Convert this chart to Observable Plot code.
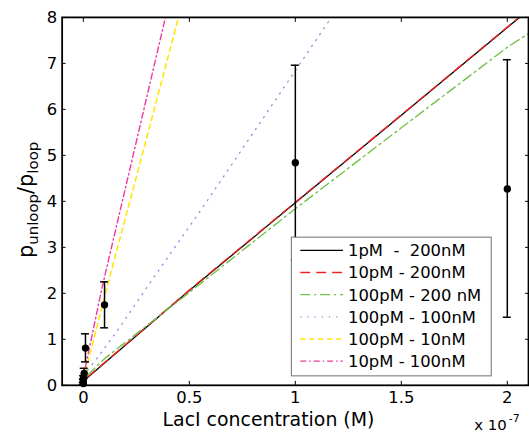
<!DOCTYPE html>
<html><head><meta charset="utf-8">
<script src="https://cdn.jsdelivr.net/npm/d3@7"></script>
<script src="https://cdn.jsdelivr.net/npm/@observablehq/plot@0.6"></script>
<style>
body{margin:0;overflow:hidden;background:#fff}
svg{font-family:"DejaVu Sans",sans-serif}
</style>
</head><body><div id="chart"></div>
<script>
// LacI concentration in units of 1e-7 M (as on the axis, "x 10^-7")
const xTicks = [0, 0.5, 1, 1.5, 2];
const yTicks = [0, 1, 2, 3, 4, 5, 6, 7, 8];

// measured points with error bars
const ptConc = [0.00001, 0.0001, 0.001, 0.004, 0.01, 0.1, 1, 2];
const ptMean = [0.04, 0.1, 0.17, 0.26, 0.81, 1.75, 4.84, 4.27];
const ptLow  = [0.02, 0.07, 0.13, 0.15, 0.51, 1.25, 2.72, 1.48];
const ptHigh = [0.06, 0.13, 0.21, 0.37, 1.12, 2.25, 6.96, 7.08];

// model curves
const seriesNames = ["1pM  -  200nM", "10pM - 200nM", "100pM - 200 nM", "100pM - 100nM", "100pM - 10nM", "10pM - 100nM"];
const s1x = [0.02, 0.5, 1, 1.5, 2, 2.1];
const s1y = [0.17, 2.06, 3.97, 5.87, 7.78, 8.16];
const s2x = [0.02, 0.5, 1, 1.5, 2, 2.1];
const s2y = [0.18, 2.07, 3.98, 5.88, 7.79, 8.17];
const s3x = [0.02, 0.1, 0.5, 1, 1.5, 2, 2.1];
const s3y = [0.22, 0.58, 2.02, 3.84, 5.6, 7.35, 7.65];
const s4x = [0.02, 0.07, 0.17, 0.31, 0.55, 1.17, 1.25];
const s4y = [0.33, 0.62, 1.25, 2.2, 3.78, 8.0, 8.55];
const s5x = [0.01, 0.11, 0.3, 0.46];
const s5y = [0.3, 2.1, 5.4, 8.2];
const s6x = [0.01, 0.087, 0.25, 0.40];
const s6y = [0.4, 2.1, 5.3, 8.25];

const seriesX = [s1x, s2x, s3x, s4x, s5x, s6x];
const seriesY = [s1y, s2y, s3y, s4y, s5y, s6y];
const styles = [
  {stroke: "#000000", dash: null, w: 1.3},
  {stroke: "#ee2222", dash: "10,6", w: 1.4},
  {stroke: "#72c24a", dash: "10,4,2,4", w: 1.4},
  {stroke: "#8c90e0", dash: "1.2,6", w: 1.3},
  {stroke: "#ffe600", dash: "5,4", w: 1.5},
  {stroke: "#f2389a", dash: "6,3,1.5,3", w: 1.4}
];

const points = ptConc.map((c, i) => ({x: c, y: ptMean[i], lo: ptLow[i], hi: ptHigh[i]}));
const lineMarks = seriesX.map((xs, k) =>
  Plot.line(xs.map((x, i) => ({x, y: seriesY[k][i]})), {
    x: "x", y: "y", stroke: styles[k].stroke, strokeWidth: styles[k].w,
    strokeDasharray: styles[k].dash, clip: true
  })
);

const FS = 16.5;
const plot = Plot.plot({
  width: 532, height: 435,
  marginLeft: 62, marginRight: 1, marginTop: 17, marginBottom: 48,
  style: {fontFamily: "DejaVu Sans", fontSize: FS + "px", color: "black", background: "white"},
  x: {domain: [-0.1, 2.1]},
  y: {domain: [0, 8]},
  marks: [
    ...lineMarks,
    Plot.ruleX(points, {x: "x", y1: "lo", y2: "hi", stroke: "black", strokeWidth: 1.5}),
    Plot.ruleY(points, {y: "hi", x1: "x", x2: "x", insetLeft: -4, insetRight: -4, stroke: "black", strokeWidth: 1.5}),
    Plot.ruleY(points, {y: "lo", x1: "x", x2: "x", insetLeft: -4, insetRight: -4, stroke: "black", strokeWidth: 1.5}),
    Plot.dot(points, {x: "x", y: "y", r: 3.7, fill: "black"}),
    Plot.axisX(xTicks, {anchor: "bottom", tickSize: -4, tickPadding: 10, label: null, tickFormat: d => String(d), fontSize: FS}),
    Plot.axisX(xTicks, {anchor: "top", tickSize: -4, fill: "none", label: null}),
    Plot.axisY(yTicks, {anchor: "left", tickSize: -4, tickPadding: 9, label: null, fontSize: FS}),
    Plot.axisY(yTicks, {anchor: "right", tickSize: -4, fill: "none", label: null}),
    Plot.frame({stroke: "black", strokeWidth: 1.8})
  ]
});
document.getElementById("chart").appendChild(plot);

const svg = d3.select(plot);
// y label
const yl = svg.append("text")
  .attr("transform", "translate(33,201) rotate(-90)")
  .attr("text-anchor", "middle").attr("font-size", 21).attr("fill", "black");
yl.append("tspan").text("p");
yl.append("tspan").attr("font-size", 15).attr("dy", 5).text("unloop");
yl.append("tspan").attr("dy", -5).text("/p");
yl.append("tspan").attr("font-size", 15).attr("dy", 5).text("loop");

// x label
svg.append("text").attr("x", 270).attr("y", 428).attr("text-anchor", "middle")
  .attr("font-size", 19).attr("fill", "black").text("LacI concentration (M)");

// multiplier
const mul = svg.append("text").attr("x", 477).attr("y", 432).attr("text-anchor", "start")
  .attr("font-size", 15).attr("fill", "black");
mul.append("tspan").text("x 10");
mul.append("tspan").attr("font-size", 11).attr("dy", -8).attr("dx", 2).text("-7");

// legend
const lg = svg.append("g");
lg.append("rect").attr("x", 293).attr("y", 238.5).attr("width", 201).attr("height", 139.5)
  .attr("fill", "white").attr("stroke", "#707070").attr("stroke-width", 1);
seriesNames.forEach((name, i) => {
  const cy = 251.7 + i * 22.3;
  lg.append("line").attr("x1", 302).attr("x2", 345).attr("y1", cy).attr("y2", cy)
    .attr("stroke", styles[i].stroke).attr("stroke-width", styles[i].w)
    .attr("stroke-dasharray", styles[i].dash);
  lg.append("text").attr("x", 350).attr("y", cy).attr("dy", "0.36em").attr("text-anchor", "start")
    .attr("font-size", FS).attr("fill", "black").style("white-space", "pre").text(name);
});
</script>
</body></html>
